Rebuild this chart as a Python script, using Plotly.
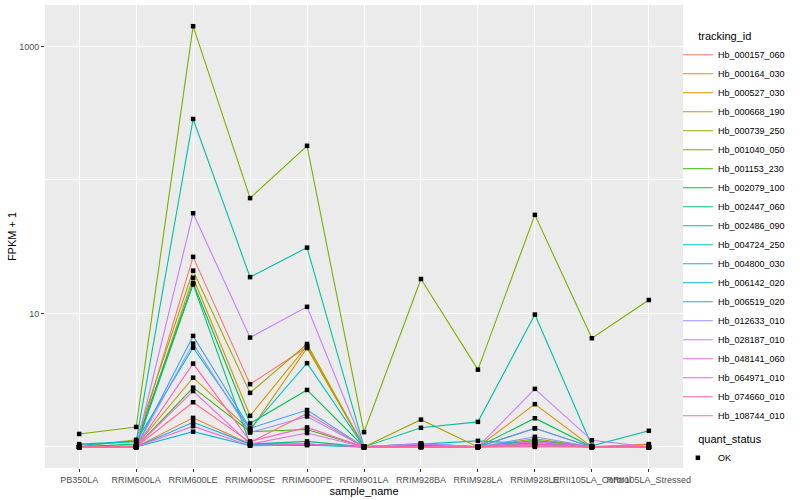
import plotly.graph_objects as go

samples = ["PB350LA", "RRIM600LA", "RRIM600LE", "RRIM600SE", "RRIM600PE", "RRIM901LA",
           "RRIM928BA", "RRIM928LA", "RRIM928LE", "RRII105LA_Control", "RRII105LA_Stressed"]

tracking_ids = ["Hb_000157_060", "Hb_000164_030", "Hb_000527_030", "Hb_000668_190",
                "Hb_000739_250", "Hb_001040_050", "Hb_001153_230", "Hb_002079_100",
                "Hb_002447_060", "Hb_002486_090", "Hb_004724_250", "Hb_004800_030",
                "Hb_006142_020", "Hb_006519_020", "Hb_012633_010", "Hb_028187_010",
                "Hb_048141_060", "Hb_064971_010", "Hb_074660_010", "Hb_108744_010"]

colors = ["#F8766D", "#EA8331", "#D89000", "#C09B00", "#A3A500", "#7CAE00", "#39B600",
          "#00BB4E", "#00BF7D", "#00C1A3", "#00BFC4", "#00BAE0", "#00B0F6", "#35A2FF",
          "#9590FF", "#C77CFF", "#E76BF3", "#FA62DB", "#FF62BC", "#FF6C91"]

# FPKM + 1 values per tracking_id, in sample order
fpkm = {
    "Hb_000157_060": [1.00, 1.00, 26.5, 2.95, 5.60, 1.00, 1.02, 1.00, 1.38, 1.00, 1.04],
    "Hb_000164_030": [1.00, 1.00, 1.65, 1.05, 1.05, 1.00, 1.00, 1.00, 1.08, 1.00, 1.05],
    "Hb_000527_030": [1.00, 1.00, 18.5, 1.71, 5.70, 1.00, 1.03, 1.00, 2.09, 1.00, 1.00],
    "Hb_000668_190": [1.00, 1.02, 3.30, 1.33, 5.50, 1.00, 1.00, 1.00, 1.10, 1.00, 1.00],
    "Hb_000739_250": [1.00, 1.13, 20.9, 2.54, 5.90, 1.00, 1.60, 1.00, 1.15, 1.00, 1.00],
    "Hb_001040_050": [1.25, 1.41, 1417, 73.0, 180, 1.29, 18.1, 3.79, 54.7, 6.52, 12.6],
    "Hb_001153_230": [1.00, 1.00, 2.78, 1.30, 1.35, 1.00, 1.02, 1.00, 1.12, 1.00, 1.00],
    "Hb_002079_100": [1.00, 1.05, 16.9, 1.50, 2.67, 1.00, 1.03, 1.00, 1.64, 1.00, 1.00],
    "Hb_002447_060": [1.00, 1.00, 16.5, 1.05, 1.10, 1.00, 1.00, 1.00, 1.10, 1.00, 1.00],
    "Hb_002486_090": [1.05, 1.10, 286, 18.7, 31.1, 1.00, 1.39, 1.54, 9.80, 1.02, 1.32],
    "Hb_004724_250": [1.03, 1.10, 5.54, 1.36, 4.24, 1.00, 1.05, 1.11, 1.05, 1.00, 1.00],
    "Hb_004800_030": [1.00, 1.00, 1.30, 1.02, 1.03, 1.00, 1.00, 1.00, 1.02, 1.00, 1.00],
    "Hb_006142_020": [1.00, 1.00, 1.53, 1.05, 1.05, 1.00, 1.04, 1.00, 1.05, 1.00, 1.00],
    "Hb_006519_020": [1.00, 1.00, 6.78, 1.38, 1.89, 1.00, 1.06, 1.00, 1.38, 1.00, 1.00],
    "Hb_012633_010": [1.00, 1.00, 5.94, 1.28, 1.69, 1.00, 1.06, 1.00, 1.19, 1.00, 1.00],
    "Hb_028187_010": [1.00, 1.00, 56.3, 6.59, 11.2, 1.00, 1.05, 1.00, 2.72, 1.12, 1.00],
    "Hb_048141_060": [1.00, 1.00, 2.62, 1.05, 1.27, 1.00, 1.00, 1.00, 1.10, 1.00, 1.00],
    "Hb_064971_010": [1.00, 1.00, 1.43, 1.02, 1.05, 1.00, 1.00, 1.00, 1.02, 1.00, 1.00],
    "Hb_074660_010": [1.00, 1.00, 4.21, 1.10, 1.40, 1.00, 1.00, 1.00, 1.05, 1.00, 1.00],
    "Hb_108744_010": [1.00, 1.00, 2.16, 1.08, 1.78, 1.00, 1.00, 1.00, 1.00, 1.00, 1.00],
}

quant_status = ["OK"]
y_tick_vals = [10, 1000]
y_tick_text = ["10", "1000"]
y_minor_vals = [1, 100]

FONT = "Liberation Sans, Arial, sans-serif"
PAD = "\u00a0" * 5

fig = go.Figure()
for i, (tid, col) in enumerate(zip(tracking_ids, colors)):
    fig.add_trace(go.Scatter(
        x=samples, y=fpkm[tid], mode="lines", name=tid,
        line=dict(color=col, width=1.1),
        legendgroup="tracking_id",
        legendgrouptitle=dict(text=PAD + "tracking_id", font=dict(size=11, color="black")) if i == 0 else None,
    ))

all_x, all_y = [], []
for tid in tracking_ids:
    all_x += samples
    all_y += fpkm[tid]
fig.add_trace(go.Scatter(
    x=all_x, y=all_y, mode="markers", name=quant_status[0],
    marker=dict(symbol="square", size=4.5, color="black"),
    legendgroup="quant_status",
    legendgrouptitle=dict(text=PAD + "quant_status", font=dict(size=11, color="black")),
))

fig.update_layout(
    width=800, height=500,
    margin=dict(l=45, r=117, t=5, b=32),
    paper_bgcolor="white", plot_bgcolor="#EBEBEB",
    font=dict(family=FONT, size=9, color="black"),
    showlegend=True,
    legend=dict(x=0.992, y=0.965, xanchor="left", yanchor="top",
                font=dict(size=9, color="black"), itemwidth=30,
                tracegroupgap=4, bgcolor="rgba(0,0,0,0)"),
    xaxis=dict(
        type="category", range=[-0.6, 10.6], categoryorder="array", categoryarray=samples,
        showgrid=True, gridcolor="white", gridwidth=1.1, zeroline=False,
        ticks="outside", ticklen=3, tickcolor="#333333", tickangle=0,
        tickfont=dict(size=9, color="#4D4D4D", family=FONT),
        title=dict(text="sample_name", font=dict(size=11, color="black"), standoff=1),
        showline=False,
    ),
    yaxis=dict(
        type="log", range=[-0.158, 3.31],
        tickvals=y_tick_vals, ticktext=y_tick_text,
        showgrid=True, gridcolor="white", gridwidth=1.1, zeroline=False,
        ticks="outside", ticklen=3, tickcolor="#333333",
        tickfont=dict(size=9, color="#4D4D4D", family=FONT),
        title=dict(text="FPKM + 1", font=dict(size=11, color="black"), standoff=0),
        minor=dict(tickvals=y_minor_vals, showgrid=True, gridcolor="white", gridwidth=0.5, ticks=""),
        showline=False,
    ),
)

fig.write_html("out.html", config={"displayModeBar": False},
               post_script="document.body.style.margin='0';document.body.style.padding='0';")
